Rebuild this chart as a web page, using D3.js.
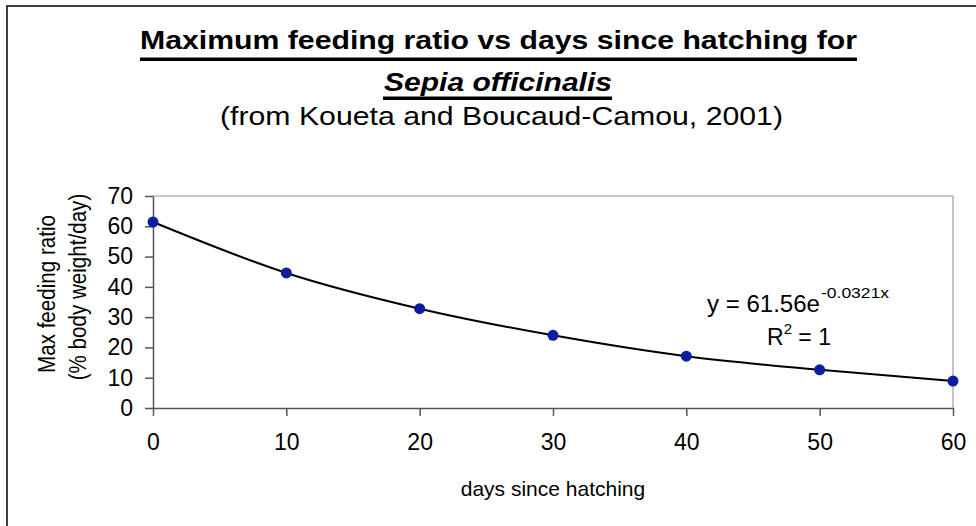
<!DOCTYPE html>
<html><head><meta charset="utf-8">
<script src="https://cdn.jsdelivr.net/npm/d3@7/dist/d3.min.js"></script>
<style>body{margin:0;background:#fff;} svg{display:block;font-family:Arial,"Liberation Sans",sans-serif;}</style>
</head><body>
<svg id="c" width="976" height="526"></svg>
<script>
const days = [0, 10, 20, 30, 40, 50, 60];
const feedingRatio = [61.4, 44.6, 32.8, 24.0, 17.1, 12.6, 8.9];
const xTicks = [0, 10, 20, 30, 40, 50, 60];
const yTicks = [0, 10, 20, 30, 40, 50, 60, 70];
const titleLine1 = "Maximum feeding ratio vs days since hatching for";
const titleLine2 = "Sepia officinalis";
const subtitle = "(from Koueta and Boucaud-Camou, 2001)";
const xTitle = "days since hatching";
const yTitle = ["Max feeding ratio", "(% body weight/day)"];
const eqMain = "y = 61.56e", eqExp = "-0.0321x";

const svg = d3.select("#c");
svg.append("path").attr("d","M7,526V6H976").attr("fill","none").attr("stroke","#000").attr("stroke-width",1.5);

const x = d3.scaleLinear().domain([0,60]).range([153,953]);
const y = d3.scaleLinear().domain([0,70]).range([408,196]);

// plot border top/right
svg.append("path").attr("d",`M${x(0)},${y(70)}H${x(60)}V${y(0)}`).attr("fill","none").attr("stroke","#8c8c8c").attr("stroke-width",1);

const gy = svg.append("g").attr("transform",`translate(${x(0)},0)`)
  .call(d3.axisLeft(y).tickValues(yTicks).tickSizeInner(8).tickSizeOuter(0).tickPadding(12));
const gx = svg.append("g").attr("transform",`translate(0,${y(0)})`)
  .call(d3.axisBottom(x).tickValues(xTicks).tickSizeInner(8).tickSizeOuter(0).tickPadding(18));
[gx,gy].forEach(g=>{
  g.select(".domain").attr("stroke","#555").attr("stroke-width",1.5);
  g.selectAll(".tick line").attr("stroke","#555").attr("stroke-width",1.5);
  g.selectAll(".tick text").attr("fill","#000").style("font-size","23px").style("font-family","Arial,'Liberation Sans',sans-serif");
});

// trendline through points
const line = d3.line().x((d,i)=>x(days[i])).y(d=>y(d)).curve(d3.curveMonotoneX);
svg.append("path").attr("d",line(feedingRatio)).attr("fill","none").attr("stroke","#000").attr("stroke-width",2);

svg.selectAll("circle.pt").data(feedingRatio).join("circle").attr("class","pt")
  .attr("cx",(d,i)=>x(days[i])).attr("cy",d=>y(d)).attr("r",5.5).attr("fill","#0a1e9e");

// titles
svg.append("text").attr("x",140).attr("y",49)
  .attr("textLength",717).attr("lengthAdjust","spacingAndGlyphs")
  .style("font-size","26px").style("font-weight","bold").text(titleLine1);
svg.append("rect").attr("x",140).attr("y",57.5).attr("width",717).attr("height",3.5).attr("fill","#000");
svg.append("text").attr("x",384).attr("y",91)
  .attr("textLength",228).attr("lengthAdjust","spacingAndGlyphs")
  .style("font-size","26px").style("font-weight","bold").style("font-style","italic").text(titleLine2);
svg.append("rect").attr("x",383).attr("y",96.5).attr("width",229).attr("height",3.5).attr("fill","#000");
svg.append("text").attr("x",220).attr("y",125)
  .attr("textLength",563).attr("lengthAdjust","spacingAndGlyphs")
  .style("font-size","25px").text(subtitle);

svg.append("text").attr("x",553).attr("y",496).attr("text-anchor","middle").style("font-size","21px").text(xTitle);
svg.append("text").attr("transform","translate(55,294) scale(1.15,1) rotate(-90)").attr("text-anchor","middle").style("font-size","20.6px").text(yTitle[0]);
svg.append("text").attr("transform","translate(86,287) scale(1.15,1) rotate(-90)").attr("text-anchor","middle").style("font-size","20.6px").text(yTitle[1]);

// equation
svg.append("text").attr("x",707).attr("y",312).attr("textLength",113).attr("lengthAdjust","spacingAndGlyphs")
  .style("font-size","23px").text(eqMain);
svg.append("text").attr("x",821).attr("y",298).attr("textLength",68).attr("lengthAdjust","spacingAndGlyphs")
  .style("font-size","15px").text(eqExp);
const r2 = svg.append("text").attr("x",767).attr("y",345).style("font-size","23px");
r2.append("tspan").text("R");
r2.append("tspan").attr("dy",-11).style("font-size","15px").text("2");
r2.append("tspan").attr("dy",11).text(" = 1");
</script>
</body></html>
